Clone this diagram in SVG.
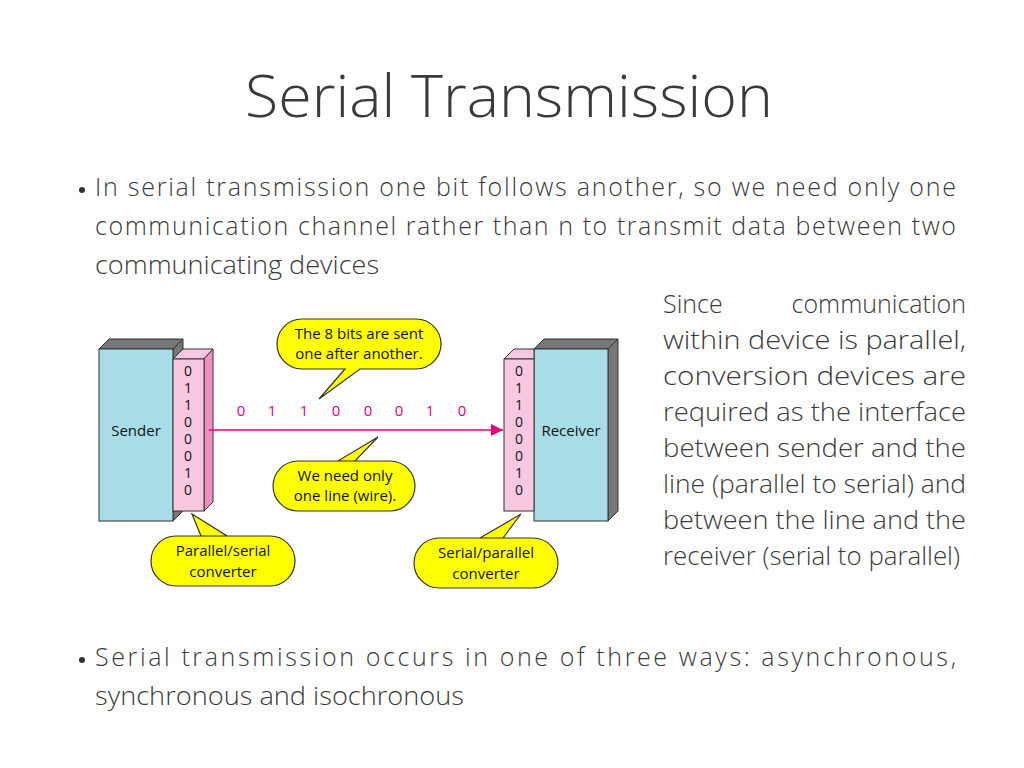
<svg xmlns="http://www.w3.org/2000/svg" width="1024" height="768" viewBox="0 0 1024 768">
<defs>
<style>
.t{font-family:"Open Sans",Lato,sans-serif;fill:#3a3a3a}
.b{font-size:25px;font-weight:300}
.d{font-family:"Open Sans","Liberation Sans",sans-serif;font-size:15px;fill:#111}
.v{font-family:"Open Sans","Liberation Sans",sans-serif;font-size:14px;fill:#111}
.bit{font-family:"Open Sans","Liberation Sans",sans-serif;font-size:15px}
.bub{fill:#ffff00;stroke:#333;stroke-width:1.2}
.blue{fill:#a8dde8;stroke:#333;stroke-width:1}
.dark{fill:#777;stroke:#333;stroke-width:1}
.pink{fill:#f8c8e0;stroke:#333;stroke-width:1}
.pinkd{fill:#f090c0;stroke:#333;stroke-width:1}
</style>
<marker id="ah" viewBox="0 0 10 10" refX="10" refY="5" markerWidth="8" markerHeight="8" orient="auto"><path d="M0,0 L10,5 L0,10 z" fill="#e6007e"/></marker>
</defs>
<rect width="1024" height="768" fill="#fff"/>
<text class="t" x="245" y="117" font-size="58" font-weight="300" textLength="528" lengthAdjust="spacingAndGlyphs">Serial Transmission</text>
<g class="t b">
<circle cx="82" cy="190" r="3" fill="#333"/>
<text x="95" y="196" textLength="861" lengthAdjust="spacing">In serial transmission one bit follows another, so we need only one</text>
<text x="95" y="235" textLength="861" lengthAdjust="spacing">communication channel rather than n to transmit data between two</text>
<text x="95" y="274" textLength="284" lengthAdjust="spacingAndGlyphs">communicating devices</text>
<text x="663" y="313">Since</text><text x="966" y="313" text-anchor="end">communication</text>
<text x="663" y="349" textLength="303" lengthAdjust="spacingAndGlyphs">within device is parallel,</text>
<text x="663" y="385" textLength="303" lengthAdjust="spacingAndGlyphs">conversion devices are</text>
<text x="663" y="421" textLength="303" lengthAdjust="spacingAndGlyphs">required as the interface</text>
<text x="663" y="457" textLength="303" lengthAdjust="spacingAndGlyphs">between sender and the</text>
<text x="663" y="493" textLength="303" lengthAdjust="spacingAndGlyphs">line (parallel to serial) and</text>
<text x="663" y="529" textLength="303" lengthAdjust="spacingAndGlyphs">between the line and the</text>
<text x="663" y="565" textLength="297" lengthAdjust="spacingAndGlyphs">receiver (serial to parallel)</text>
<circle cx="82" cy="660" r="3" fill="#333"/>
<text x="95" y="666" textLength="861" lengthAdjust="spacing">Serial transmission occurs in one of three ways: asynchronous,</text>
<text x="95" y="705" textLength="369" lengthAdjust="spacingAndGlyphs">synchronous and isochronous</text>
</g>
<g id="sender">
<path class="dark" d="M99,349 L109,339 L183,339 L173,349 Z"/>
<path class="dark" d="M173,349 L183,339 L183,511 L173,521 Z"/>
<rect class="blue" x="99" y="349" width="74" height="172"/>
<text class="d" x="136" y="436" text-anchor="middle">Sender</text>
</g>
<g id="ps-conv">
<path class="pink" d="M173,359 L183,349 L213,349 L204,359 Z"/>
<path class="pinkd" d="M204,359 L213,349 L213,502 L204,511 Z"/>
<rect class="pink" x="173" y="359" width="31" height="152"/>
<g class="v" text-anchor="middle"><text x="188" y="376">0</text><text x="188" y="393">1</text><text x="188" y="410">1</text><text x="188" y="427">0</text><text x="188" y="444">0</text><text x="188" y="461">0</text><text x="188" y="478">1</text><text x="188" y="495">0</text></g>
</g>
<g id="receiver">
<path class="dark" d="M534,349 L544,339 L618,339 L608,349 Z"/>
<path class="dark" d="M608,349 L618,339 L618,511 L608,521 Z"/>
<rect class="blue" x="534" y="349" width="74" height="172"/>
<text class="d" x="571" y="436" text-anchor="middle">Receiver</text>
</g>
<g id="sp-conv">
<path class="pink" d="M504,359 L514,349 L534,349 L534,359 Z"/>
<rect class="pink" x="504" y="359" width="30" height="152"/>
<g class="v" text-anchor="middle"><text x="519" y="376">0</text><text x="519" y="393">1</text><text x="519" y="410">1</text><text x="519" y="427">0</text><text x="519" y="444">0</text><text x="519" y="461">0</text><text x="519" y="478">1</text><text x="519" y="495">0</text></g>
</g>
<g id="connectors">
<line x1="209" y1="430" x2="503" y2="430" stroke="#e6007e" stroke-width="1.5" marker-end="url(#ah)"/>
<g class="bit" fill="#e6007e" text-anchor="middle">
<text x="241" y="416">0</text><text x="272" y="416">1</text><text x="304" y="416">1</text><text x="336" y="416">0</text><text x="368" y="416">0</text><text x="399" y="416">0</text><text x="430" y="416">1</text><text x="462" y="416">0</text>
</g>
</g>
<g id="callout-top">
<path class="bub" d="M302,319 H416 A25,25 0 0 1 416,369 H360 L319,399 L345,369 H302 A25,25 0 0 1 302,319 Z"/>
<text class="d" x="359" y="339" text-anchor="middle">The 8 bits are sent</text>
<text class="d" x="359" y="359" text-anchor="middle">one after another.</text>
</g>
<g id="callout-wire">
<path class="bub" d="M298,461 H390 A25,25 0 0 1 390,511 H298 A25,25 0 0 1 298,461 H338 L378,437 L355,461 Z"/>
<text class="d" x="345" y="481" text-anchor="middle">We need only</text>
<text class="d" x="345" y="501" text-anchor="middle">one line (wire).</text>
</g>
<g id="callout-ps">
<path class="bub" d="M176,536 H270 A25,25 0 0 1 270,586 H176 A25,25 0 0 1 176,536 H201 L192,514 L227,536 Z"/>
<text class="d" x="223" y="556" text-anchor="middle">Parallel/serial</text>
<text class="d" x="223" y="577" text-anchor="middle">converter</text>
</g>
<g id="callout-sp">
<path class="bub" d="M439,538 H533 A25,25 0 0 1 533,588 H439 A25,25 0 0 1 439,538 H480 L521,514 L503,538 Z"/>
<text class="d" x="486" y="558" text-anchor="middle">Serial/parallel</text>
<text class="d" x="486" y="579" text-anchor="middle">converter</text>
</g>
</svg>
